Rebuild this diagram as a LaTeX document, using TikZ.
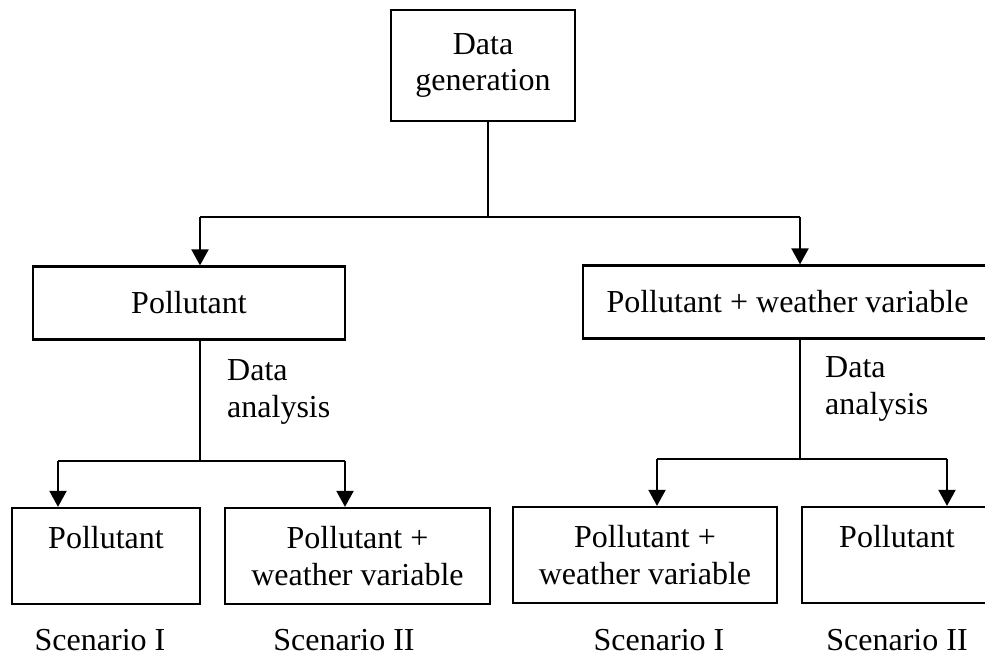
\documentclass[tikz,border=0pt]{standalone}
\usepackage{fontspec}
\setmainfont{Liberation Serif}
\usetikzlibrary{arrows.meta}
\begin{document}
\begin{tikzpicture}[x=1pt,y=-1pt,
  every node/.style={font=\fontsize{32}{36.5}\selectfont},
  box/.style={draw, line width=2.2pt, inner sep=0pt, align=center},
  conn/.style={line width=2pt},
  arr/.style={line width=2pt, -{Triangle[length=16pt,width=17pt]}},
  lbl/.style={inner sep=0pt, align=left, anchor=base west},
  scen/.style={inner sep=0pt, anchor=base}]
\clip (0,0) rectangle (985,658);
% boxes
\node[box, minimum width=184pt, minimum height=111pt] (gen) at (483,65.5) {Data\\generation};
\node[box, minimum width=312pt, minimum height=73pt] (p1) at (189,303) {Pollutant};
\node[box, minimum width=409pt, minimum height=73pt] (p2) at (787.5,302) {Pollutant + weather variable};
\node[box, minimum width=188pt, minimum height=96pt] (b1) at (106,556) {Pollutant\\\phantom{weather}};
\node[box, minimum width=265pt, minimum height=96pt] (b2) at (357.5,556) {Pollutant +\\weather variable};
\node[box, minimum width=264pt, minimum height=96pt] (b3) at (645,555) {Pollutant +\\weather variable};
\node[box, minimum width=190pt, minimum height=96pt] (b4) at (897,555) {Pollutant\\\phantom{weather}};
% labels
\node[lbl] (da1) at (227,417) {Data\\analysis};
\node[lbl] (da2) at (825,414) {Data\\analysis};
\node[scen] (s1) at (100,650) {Scenario I};
\node[scen] (s2) at (344,650) {Scenario II};
\node[scen] (s3) at (659,650) {Scenario I};
\node[scen] (s4) at (897,650) {Scenario II};
% junction coordinates
\coordinate (j0) at (488,217);
\coordinate (ja) at (200,217);
\coordinate (jb) at (800,217);
\coordinate (k0) at (200,461);
\coordinate (ka) at (58,461);
\coordinate (kb) at (345,461);
\coordinate (m0) at (800,459);
\coordinate (ma) at (657,459);
\coordinate (mb) at (947,459);
% connectors level 1
\draw[conn] (gen.south -| j0) -- (j0);
\draw[conn] (ja) -- (jb);
\draw[arr] (ja) -- (ja |- p1.north);
\draw[arr] (jb) -- (jb |- p2.north);
% left branch
\draw[conn] (p1.south -| k0) -- (k0);
\draw[conn] (ka) -- (kb);
\draw[arr] (ka) -- (ka |- b1.north);
\draw[arr] (kb) -- (kb |- b2.north);
% right branch
\draw[conn] (p2.south -| m0) -- (m0);
\draw[conn] (ma) -- (mb);
\draw[arr] (ma) -- (ma |- b3.north);
\draw[arr] (mb) -- (mb |- b4.north);
\end{tikzpicture}
\end{document}
